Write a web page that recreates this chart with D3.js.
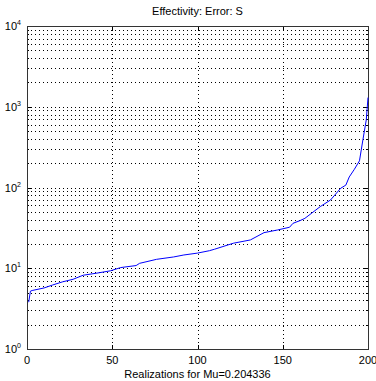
<!DOCTYPE html>
<html><head>
<meta charset="utf-8">
<script src="https://d3js.org/d3.v7.min.js"></script>
<style>
  body { margin: 0; background: #fff; }
  text { font-family: "Liberation Sans", Arial, sans-serif; fill: #000; }
</style>
</head>
<body>
<div id="chart"></div>
<script>
// realization index and error value
var realization = [1, 2, 3, 10, 15, 21, 27, 33, 41, 49, 55, 64, 66, 76, 86, 92, 100, 107, 110, 121,
  131, 139, 147, 154, 156, 160, 163, 172, 178, 184, 187, 189, 192, 195, 197, 199, 200];
var errorS = [3.8, 5.2, 5.3, 5.7, 6.2, 6.8, 7.3, 8.2, 8.7, 9.3, 10.2, 10.8, 11.5, 12.9, 13.8, 14.6, 15.4, 16.5, 17.2, 20.4,
  22.4, 27.6, 29.8, 32.2, 36, 38.8, 41.5, 58, 70, 98, 107, 135, 168, 214, 388, 690, 1300];
var xTicks = [0, 50, 100, 150, 200];
var yDecades = [0, 1, 2, 3, 4];
var titleText = "Effectivity: Error: S";
var xLabel = "Realizations for  Mu=0.204336";

var W = 376, H = 381;
var margin = {top: 26, right: 8, bottom: 32, left: 27};
var width = W - margin.left - margin.right;
var height = H - margin.top - margin.bottom;

var svg = d3.select("#chart").append("svg")
    .attr("width", W)
    .attr("height", H);

var g = svg.append("g")
    .attr("transform", "translate(" + margin.left + "," + margin.top + ")");

var x = d3.scaleLinear().domain([0, 200]).range([0, width]);
var y = d3.scaleLog().domain([1, 10000]).range([height, 0]);

// minor + major values for log grid
var yGrid = [];
yDecades.slice(0, -1).forEach(function(e) {
  for (var m = 1; m <= 9; m++) yGrid.push(m * Math.pow(10, e));
});
yGrid.push(10000);

// dotted grid
g.append("g").selectAll("line.hg")
  .data(yGrid.filter(function(v) { return v > 1 && v < 10000; }))
  .enter().append("line")
    .attr("x1", 0).attr("x2", width)
    .attr("y1", function(d) { return Math.round(y(d)) + 0.5; })
    .attr("y2", function(d) { return Math.round(y(d)) + 0.5; })
    .attr("stroke", "#000")
    .attr("stroke-width", 1)
    .attr("stroke-dasharray", "1,3");

g.append("g").selectAll("line.vg")
  .data(xTicks.slice(1, -1))
  .enter().append("line")
    .attr("y1", 0).attr("y2", height)
    .attr("x1", function(d) { return Math.round(x(d)) + 0.5; })
    .attr("x2", function(d) { return Math.round(x(d)) + 0.5; })
    .attr("stroke", "#000")
    .attr("stroke-width", 1)
    .attr("stroke-dasharray", "1,3");

// inward ticks on all four sides
var tickLen = 4;
xTicks.forEach(function(d) {
  var px = Math.round(x(d)) + 0.5;
  g.append("line").attr("x1", px).attr("x2", px).attr("y1", height).attr("y2", height - tickLen).attr("stroke", "#000");
  g.append("line").attr("x1", px).attr("x2", px).attr("y1", 0).attr("y2", tickLen).attr("stroke", "#000");
});
yGrid.forEach(function(d) {
  var py = Math.round(y(d)) + 0.5;
  var len = (Math.log10(d) % 1 === 0) ? tickLen : 2;
  g.append("line").attr("x1", 0).attr("x2", len).attr("y1", py).attr("y2", py).attr("stroke", "#000");
  g.append("line").attr("x1", width).attr("x2", width - len).attr("y1", py).attr("y2", py).attr("stroke", "#000");
});

// box
g.append("rect")
  .attr("x", 0.5).attr("y", 0.5)
  .attr("width", width).attr("height", height)
  .attr("fill", "none")
  .attr("stroke", "#333")
  .attr("stroke-width", 1);

// the curve
var pts = realization.map(function(r, i) { return {r: r, v: errorS[i]}; });
g.append("path")
  .datum(pts)
  .attr("fill", "none")
  .attr("stroke", "#0000ff")
  .attr("stroke-width", 1)
  .attr("d", d3.line()
    .x(function(d) { return x(d.r); })
    .y(function(d) { return y(d.v); }));

// x tick labels
g.append("g").selectAll("text")
  .data(xTicks)
  .enter().append("text")
    .attr("x", function(d) { return x(d); })
    .attr("y", height + 15)
    .attr("text-anchor", "middle")
    .style("font-size", "11px")
    .text(function(d) { return d; });

// y tick labels 10^n
yDecades.forEach(function(e) {
  var t = g.append("text")
    .attr("x", -6)
    .attr("y", y(Math.pow(10, e)) + 4)
    .attr("text-anchor", "end")
    .style("font-size", "11px");
  t.append("tspan").text("10");
  t.append("tspan").attr("dy", -5).style("font-size", "7px").text(e);
});

// title and x label
svg.append("text")
  .attr("x", margin.left + width / 2)
  .attr("y", 15)
  .attr("text-anchor", "middle")
  .style("font-size", "11px")
  .text(titleText);

svg.append("text")
  .attr("x", margin.left + width / 2)
  .attr("y", H - 3)
  .attr("text-anchor", "middle")
  .style("font-size", "11px")
  .text(xLabel);
</script>
</body></html>
